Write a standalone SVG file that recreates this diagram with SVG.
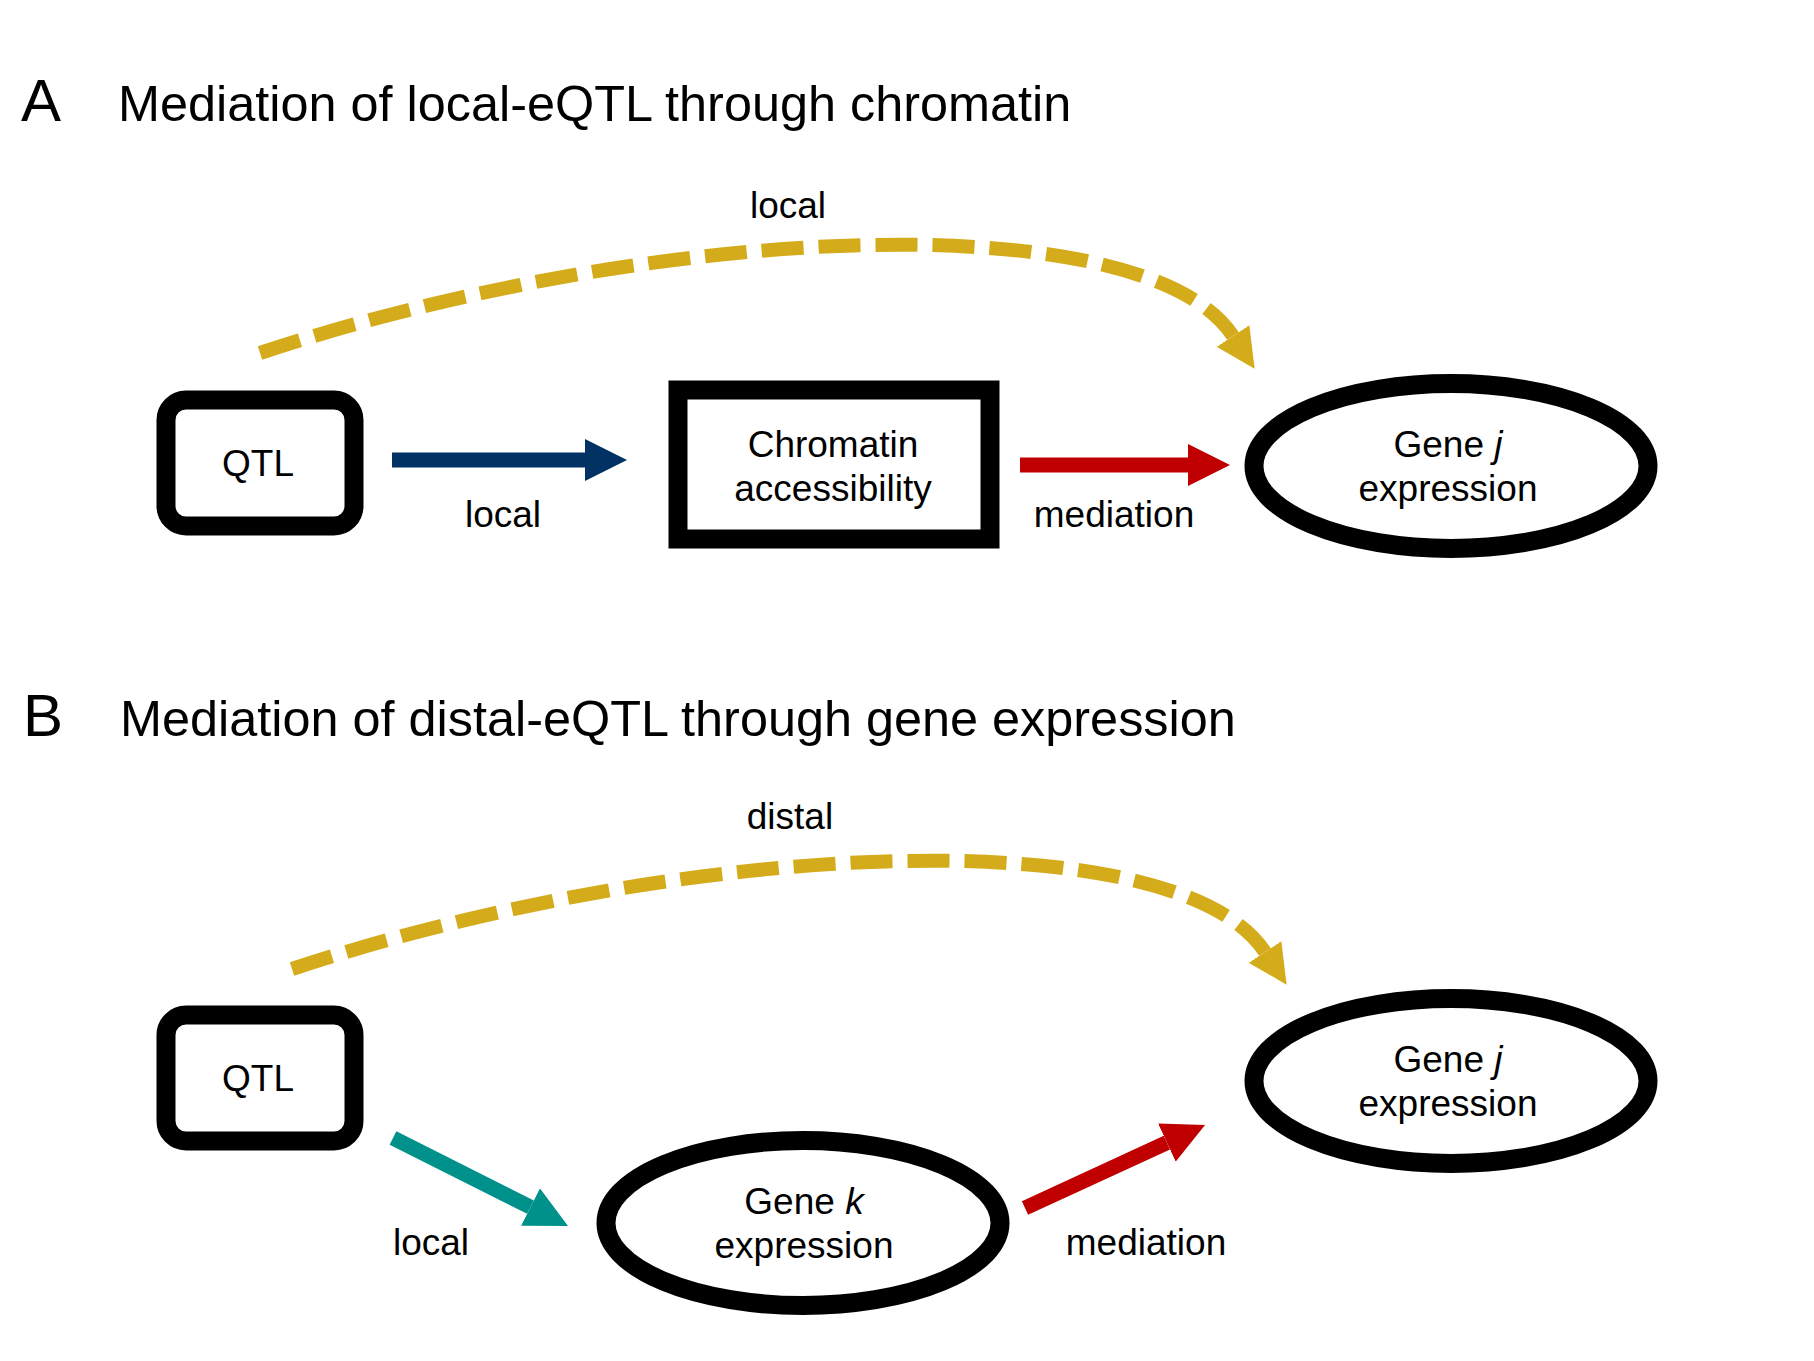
<svg xmlns="http://www.w3.org/2000/svg" width="1814" height="1361" viewBox="0 0 1814 1361">
<style>
  text { font-family: "Liberation Sans", Arial, sans-serif; fill: #000; }
  .title { font-size: 50.4px; }
  .letter { font-size: 60px; }
  .lbl { font-size: 37px; text-anchor: middle; }
  .node { fill: #fff; stroke: #000; stroke-width: 19; }
  .arrow { fill: none; stroke-width: 15; stroke-linecap: butt; }
  .dash { fill: none; stroke: #D4AC1B; stroke-width: 14; stroke-dasharray: 42 15; }
</style>
<defs>
  <marker id="hNavy" viewBox="0 -1.4 2.8 2.8" refX="0" refY="0" markerWidth="2.8" markerHeight="2.8" markerUnits="strokeWidth" orient="auto"><path d="M0,-1.4 L2.8,0 L0,1.4 Z" fill="#003264" stroke="none"/></marker>
  <marker id="hRed" viewBox="0 -1.4 2.8 2.8" refX="0" refY="0" markerWidth="2.8" markerHeight="2.8" markerUnits="strokeWidth" orient="auto"><path d="M0,-1.4 L2.8,0 L0,1.4 Z" fill="#C00000" stroke="none"/></marker>
  <marker id="hTeal" viewBox="0 -1.4 2.8 2.8" refX="0" refY="0" markerWidth="2.8" markerHeight="2.8" markerUnits="strokeWidth" orient="auto"><path d="M0,-1.4 L2.8,0 L0,1.4 Z" fill="#00918B" stroke="none"/></marker>
  <marker id="hGold" viewBox="0 -1.4 2.8 2.8" refX="0" refY="0" markerWidth="2.8" markerHeight="2.8" markerUnits="strokeWidth" orient="auto"><path d="M0,-1.4 L2.8,0 L0,1.4 Z" fill="#D4AC1B" stroke="none"/></marker>
</defs>
<rect width="1814" height="1361" fill="#fff"/>

<g id="titleA">
  <text class="letter" x="21" y="121">A</text>
  <text class="title" x="118" y="121">Mediation of local-eQTL through chromatin</text>
</g>
<g id="titleB">
  <text class="letter" x="23" y="736">B</text>
  <text class="title" x="120" y="736">Mediation of distal-eQTL through gene expression</text>
</g>

<g id="connectors">
  <path class="dash" d="M260,353 C660,221 1145,203 1233,336" marker-end="url(#hGold)"/>
  <line class="arrow" x1="392" y1="460" x2="585" y2="460" stroke="#003264" marker-end="url(#hNavy)"/>
  <line class="arrow" x1="1020" y1="465" x2="1188" y2="465" stroke="#C00000" marker-end="url(#hRed)"/>
  <path class="dash" d="M292,969 C692,837 1177,819 1265,952" marker-end="url(#hGold)"/>
  <line class="arrow" x1="393" y1="1138" x2="530.5" y2="1207.1" stroke="#00918B" marker-end="url(#hTeal)"/>
  <line class="arrow" x1="1025" y1="1208" x2="1166.9" y2="1142.6" stroke="#C00000" marker-end="url(#hRed)"/>
  <text class="lbl" x="788" y="218">local</text>
  <text class="lbl" x="503" y="527">local</text>
  <text class="lbl" x="1114" y="527">mediation</text>
  <text class="lbl" x="790" y="829">distal</text>
  <text class="lbl" x="431" y="1255">local</text>
  <text class="lbl" x="1146" y="1255">mediation</text>
</g>

<g id="qtlA">
  <rect class="node" x="166" y="400" width="188" height="126" rx="20"/>
  <text class="lbl" x="258" y="476">QTL</text>
</g>
<g id="chromatinA">
  <rect class="node" x="678" y="390" width="312" height="149" stroke-width="20"/>
  <text class="lbl" x="833" y="457">Chromatin</text>
  <text class="lbl" x="833" y="501">accessibility</text>
</g>
<g id="geneJA">
  <ellipse class="node" cx="1451" cy="466" rx="197" ry="82.5"/>
  <text class="lbl" x="1448" y="457">Gene <tspan font-style="italic">j</tspan></text>
  <text class="lbl" x="1448" y="501">expression</text>
</g>

<g id="qtlB">
  <rect class="node" x="166" y="1015" width="188" height="126" rx="20"/>
  <text class="lbl" x="258" y="1091">QTL</text>
</g>
<g id="geneKB">
  <ellipse class="node" cx="803" cy="1223" rx="197" ry="82.5"/>
  <text class="lbl" x="804" y="1214">Gene <tspan font-style="italic">k</tspan></text>
  <text class="lbl" x="804" y="1258">expression</text>
</g>
<g id="geneJB">
  <ellipse class="node" cx="1451" cy="1081" rx="197" ry="82.5"/>
  <text class="lbl" x="1448" y="1072">Gene <tspan font-style="italic">j</tspan></text>
  <text class="lbl" x="1448" y="1116">expression</text>
</g>
</svg>
